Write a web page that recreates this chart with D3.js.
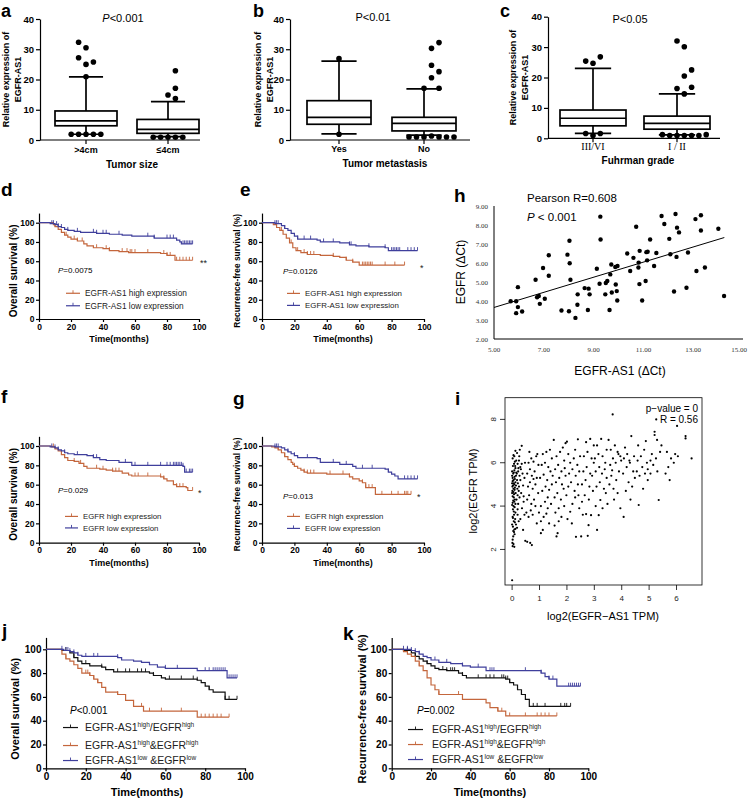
<!DOCTYPE html>
<html><head><meta charset="utf-8">
<script src="https://cdn.jsdelivr.net/npm/d3@7/dist/d3.min.js"></script>
<style>
body{margin:0;background:#fff}
svg{display:block;font-family:"Liberation Sans",Arial,Helvetica,sans-serif}
</style></head><body>
<svg id="fig" width="749" height="799"></svg>
<script>
// ================= DATA =================
// --- box plots (a, b, c) ---
const boxTicks = [0, 10, 20, 30, 40];
const aCats = [">4cm", "≤4cm"];
const aLow = [1.9, 1.1], aQ1 = [4.7, 2.2], aMed = [6.3, 3.5], aQ3 = [9.6, 6.8], aHigh = [20.9, 12.7];
// [category index, value, jitter slot]
const aOut = [[0,32.3,-1],[0,30.5,0],[0,27.2,-1],[0,25.0,0],[0,25.8,1],[0,20.9,0],
  [0,1.9,-2],[0,1.9,-1],[0,1.9,0],[0,1.9,1],[0,1.9,2],
  [1,22.9,1],[1,17.1,1],[1,14.9,0],[1,13.7,1],
  [1,0.9,-2],[1,0.9,-1],[1,0.9,0],[1,0.9,1],[1,0.9,2]];
const bCats = ["Yes", "No"];
const bLow = [2.0, 1.6], bQ1 = [5.2, 3.0], bMed = [7.5, 5.5], bQ3 = [13.0, 7.5], bHigh = [26.1, 16.9];
const bOut = [[0,26.9,0],[0,1.9,0],
  [1,32.2,2],[1,30.3,1],[1,24.7,1],[1,22.6,2],[1,20.6,1],[1,17.1,0],[1,17.1,2],
  [1,1.3,1],[1,1.0,-2],[1,1.0,-1],[1,1.0,0],[1,1.0,2],[1,1.0,3],[1,1.0,4]];
const cCats = ["III/VI", "I / II"];
const cLow = [1.6, 1.1], cQ1 = [4.1, 3.0], cMed = [6.6, 4.9], cQ3 = [9.3, 7.3], cHigh = [23.0, 14.6];
const cOut = [[0,25.4,-1],[0,24.7,0],[0,26.8,1],[0,1.6,-1],[0,1.6,1],[0,0.9,0],
  [1,32.0,0],[1,30.1,1],[1,22.5,2],[1,20.5,1],[1,16.4,0],[1,16.8,2],[1,14.6,1],
  [1,1.2,-2],[1,0.9,-1],[1,0.9,0],[1,0.9,1],[1,0.9,2],[1,0.9,3],[1,1.2,4]];

// --- Kaplan-Meier curves: step times, survival (%), censor times ---
const kmTicks = [0, 20, 40, 60, 80, 100];
const dHighT = [0,9,10,12,14,16,18,20,24,28,30,34,40,44,50,56,76,80,85];
const dHighS = [100,98,96,93,90,87,85,83,81,78,76,74,73,71,70,69,68,66,61];
const dHighC = [10,17,22,24,27,36,42,44,52,55,57,58,60,68,78,80,82,86,88,90,92,94,96];
const dLowT = [0,7,10,12,14,16,18,22,26,36,44,52,58,72,86,88,89];
const dLowS = [100,99,98,96,95,93,92,91,90,89,88,87,86,84,82,80,78];
const dLowC = [8,9,11,12,14,18,24,34,36,40,42,50,68,72,80,82,84,90,91,92,93,94,95,96];

const eHighT = [0,7,9,11,13,15,17,19,21,24,28,36,44,48,52,56,60];
const eHighS = [100,98,95,92,88,84,79,74,71,69,67,66,65,64,61,59,56];
const eHighC = [12,18,22,26,28,30,32,44,52,56,62,63,64,65,66,67,68,76,82,88];
const eLowT = [0,8,12,14,16,18,20,22,34,36,48,54,58,66,76,78];
const eLowS = [100,99,97,94,92,89,86,83,82,80,79,77,76,75,74,71];
const eLowC = [8,9,10,14,22,26,30,38,44,54,55,66,76,80,81,82,83,84,85,90,92,94,96];

const fHighT = [0,8,10,12,14,16,18,22,25,28,30,38,42,46,52,56,58,76,78,80,84,86,92,93];
const fHighS = [100,99,97,95,91,88,85,84,82,79,77,76,75,74,72,70,69,68,66,64,60,58,57,54];
const fHighC = [9,16,22,26,36,40,46,48,50,60,62,68,76,78,86,88,90,96];
const fLowT = [0,7,10,12,14,16,18,22,30,34,38,42,50,58,90,91];
const fLowS = [100,99,98,96,95,93,92,91,90,88,86,85,83,80,79,73];
const fLowC = [8,10,12,16,24,34,36,54,60,68,76,80,82,84,85,86,87,88,89,90,92,94,95,96];

const gHighT = [0,6,8,10,12,14,16,18,19,20,22,24,26,28,40,54,56,60,62,64,70];
const gHighS = [100,99,98,96,93,89,86,83,81,79,77,75,73,72,71,68,66,64,62,57,50];
const gHighC = [10,14,20,26,28,30,32,42,50,54,62,64,66,68,74,80,84,88,89,90,92];
const gLowT = [0,8,12,14,16,18,20,22,34,36,48,56,58,76,78,80,82,84];
const gLowS = [100,99,98,96,94,92,90,88,87,83,81,79,77,76,73,71,69,66];
const gLowC = [8,9,10,16,20,28,44,52,62,68,78,88,90,92,94,96];

const jBlackT = [0,8,12,14,16,18,22,28,30,34,52,54,58,60,76,78,80,82,84,90];
const jBlackS = [100,99,97,93,90,88,86,85,83,81,80,78,76,75,74,72,69,66,64,58];
const jBlackC = [10,14,20,28,36,40,42,46,48,50,54,62,68,74,76,82,90,92,96];
const jOrT = [0,8,10,12,14,16,18,22,24,26,28,30,36,40,44,49,76];
const jOrS = [100,96,92,90,87,84,80,78,75,72,68,64,62,57,52,48,43];
const jOrC = [10,20,21,22,24,26,36,48,52,58,68,78,80,82,84,86,88,92];
const jBlueT = [0,9,12,14,16,18,36,38,44,48,52,56,60,76,91];
const jBlueS = [100,99,98,97,95,94,93,91,90,89,87,85,84,82,76];
const jBlueC = [8,10,11,12,14,16,20,24,26,36,60,66,80,82,84,85,86,87,88,89,90,92,93,94,95,96];

const kBlackT = [0,6,10,12,14,16,18,20,22,24,28,34,36,38,58,60,62,64,66,68,70];
const kBlackS = [100,99,97,94,92,90,88,86,84,83,82,80,78,76,75,72,70,66,62,58,52];
const kBlackC = [8,12,18,26,28,30,31,32,36,44,48,50,52,56,57,58,59,60,64,66,72,74,78,86,88,89,91];
const kOrT = [0,6,8,10,12,14,16,18,20,22,24,36,48,50,54,58];
const kOrS = [100,98,96,94,90,86,82,76,70,66,62,58,55,51,48,44];
const kOrC = [14,24,34,54,56,60,68,74,76,78,80,84];
const kBlueT = [0,10,12,14,16,18,20,24,30,36,40,48,76,78,80,84];
const kBlueS = [100,99,98,96,94,93,91,89,88,86,85,82,80,77,75,69];
const kBlueC = [6,8,10,12,14,22,28,36,44,50,51,52,68,76,80,82,90,91,92,93,94,95,96];

// --- h: EGFR (ΔCt) vs EGFR-AS1 (ΔCt) ---
const hXTicks = [5, 7, 9, 11, 13, 15];
const hYTicks = [2, 3, 4, 5, 6, 7, 8, 9];
const hX = [5.67,5.89,5.96,5.96,5.89,6.13,6.67,6.73,6.80,6.84,7.04,6.97,7.20,7.20,7.71,7.95,8.03,8.04,8.07,8.01,
  8.27,8.36,8.35,8.64,8.80,8.84,8.77,9.13,9.24,9.27,9.28,9.47,9.49,9.55,9.67,9.71,9.64,9.73,9.87,9.96,
  9.89,9.93,9.95,10.35,10.47,10.60,10.71,10.80,10.81,10.85,10.84,10.95,11.09,11.12,11.15,11.17,11.27,11.43,11.52,11.73,
  11.84,12.04,12.08,12.23,12.29,12.35,12.33,12.43,12.73,12.79,13.09,13.13,13.31,13.31,13.47,14.01,14.24];
const hY = [3.99,3.99,4.73,3.68,3.36,3.45,5.12,4.20,4.26,3.85,4.12,5.74,6.41,5.33,3.50,6.44,7.17,5.99,5.12,3.46,
  3.11,4.35,3.80,4.68,4.65,4.35,3.53,5.70,4.91,8.44,7.24,4.35,4.95,5.05,5.40,5.92,3.53,4.45,5.79,5.84,
  4.87,4.52,4.03,6.50,5.58,6.27,7.91,5.76,6.02,6.64,4.89,4.03,5.05,6.57,6.14,6.59,7.24,5.84,6.53,8.47,
  8.05,7.27,6.46,4.50,8.58,7.86,6.32,7.61,4.70,6.55,8.31,5.58,8.51,7.71,5.76,7.80,4.26];
const hFit = [[5.0, 3.66], [14.25, 7.34]];

// --- i: log2(EGFR TPM) vs log2(EGFR-AS1 TPM) ---
const iXTicks = [0, 1, 2, 3, 4, 5, 6];
const iYTicks = [2, 4, 6, 8];
const iPts = [[0.00,0.58],[0.02,2.15],[0.05,2.25],[0.08,2.12],[0.02,2.45],[0.04,2.85],[0.08,2.92],[0.03,3.05],[0.06,3.3],[0.1,3.25],
 [0.02,3.5],[0.07,3.6],[0.12,3.7],[0.03,3.85],[0.09,3.95],[0.05,4.0],[0.0,4.05],[0.12,4.1],[0.04,4.25],[0.1,4.3],
 [0.02,4.45],[0.07,4.55],[0.13,4.6],[0.01,4.7],[0.05,4.8],[0.1,4.85],[0.03,4.95],[0.08,5.0],[0.0,5.05],[0.12,5.1],
 [0.05,5.2],[0.02,5.3],[0.09,5.35],[0.14,5.4],[0.04,5.5],[0.0,5.6],[0.08,5.65],[0.12,5.75],[0.03,5.85],[0.07,5.95],
 [0.1,6.05],[0.05,6.35],[0.12,6.55],[0.02,5.15],[0.06,4.4],[0.11,3.4],[0.09,2.7],[0.14,4.95],[0.0,4.6],[0.15,5.55],
 [0.01,2.3],[0.04,2.6],[0.07,2.8],[0.0,3.15],[0.03,3.45],[0.06,3.75],[0.02,4.15],[0.08,4.2],[0.05,4.65],[0.09,4.75],
 [0.01,4.9],[0.06,5.05],[0.1,5.25],[0.0,5.4],[0.06,5.55],[0.11,5.85],[0.02,6.2],[0.08,6.3],[0.16,4.3],[0.19,4.8],
 [0.21,5.05],[0.17,5.5],[0.23,5.75],[0.26,6.3],[0.15,6.1],[0.2,3.85],[0.24,3.3],[0.14,3.15],[0.27,4.4],[0.12,2.95],
 [0.18,3.0],[0.2,3.6],[0.22,4.1],[0.2,4.5],[0.25,4.9],[0.18,5.2],[0.27,5.4],[0.22,5.6],[0.3,5.8],[0.2,5.95],
 [0.25,6.1],[0.18,6.45],[0.28,6.6],[0.35,6.78],[0.32,5.7],[0.38,5.5],[0.3,5.2],[0.4,4.95],[0.33,4.6],[0.42,4.2],
 [0.36,3.9],[0.45,3.6],[0.3,3.4],[0.4,2.9],[0.48,2.4],[0.35,5.95],[0.45,5.3],[0.47,6.0],[0.24,4.7],[0.42,4.45],
 [0.55,2.35],[0.66,2.3],[0.72,2.2],[0.52,3.7],[0.6,3.5],[0.68,3.8],[0.75,3.6],[0.55,4.3],[0.62,4.5],[0.7,4.1],
 [0.8,4.3],[0.58,4.9],[0.65,5.1],[0.75,4.8],[0.85,5.0],[0.95,4.6],[0.55,5.5],[0.65,5.7],[0.72,5.4],[0.82,5.6],
 [0.9,5.3],[0.6,6.0],[0.7,6.2],[0.78,6.05],[0.88,6.3],[0.96,5.9],[0.63,6.5],[0.92,6.4],[0.85,4.0],[0.98,3.7],
 [0.9,3.2],[0.78,5.25],[1.05,2.75],[1.12,2.9],[1.05,3.3],[1.15,3.5],[1.25,3.65],[1.35,3.2],[1.05,4.0],[1.2,4.2],
 [1.3,4.4],[1.42,4.1],[1.1,4.7],[1.22,4.9],[1.35,4.75],[1.45,5.0],[1.02,5.3],[1.15,5.45],[1.28,5.2],[1.4,5.6],
 [1.08,5.9],[1.2,6.0],[1.32,5.8],[1.45,6.2],[1.12,6.4],[1.25,6.5],[1.38,6.6],[1.48,5.4],[1.3,3.9],[1.52,7.05],
 [1.55,3.1],[1.62,2.6],[1.66,2.75],[1.58,3.7],[1.7,3.9],[1.8,3.5],[1.9,4.0],[1.55,4.4],[1.65,4.6],[1.78,4.3],
 [1.88,4.8],[1.98,4.5],[1.6,5.1],[1.72,5.3],[1.82,5.0],[1.95,5.4],[1.57,5.7],[1.68,5.9],[1.8,5.6],[1.9,6.1],
 [1.62,6.3],[1.75,6.5],[1.85,6.7],[1.95,6.9],[1.7,3.3],[1.92,5.75],[2.0,6.97],[2.05,6.4],[2.12,3.74],[2.2,4.1],
 [2.3,4.4],[2.45,3.9],[2.05,4.9],[2.15,5.1],[2.28,4.7],[2.4,5.0],[2.08,5.5],[2.2,5.7],[2.32,5.4],[2.45,5.6],
 [2.12,6.0],[2.25,6.2],[2.38,5.9],[2.48,6.3],[2.4,7.08],[2.33,2.58],[2.18,3.2],[2.3,6.6],[2.02,3.4],[2.42,4.5],
 [2.52,2.6],[2.76,2.63],[2.79,3.12],[2.58,3.6],[2.7,3.63],[2.88,3.58],[2.55,4.2],[2.65,4.5],[2.8,4.3],[2.95,4.7],
 [2.55,5.0],[2.68,5.2],[2.82,4.9],[2.92,5.4],[2.6,5.6],[2.72,5.8],[2.85,5.5],[2.98,6.0],[2.62,6.3],[2.75,6.5],
 [2.9,6.2],[2.98,6.8],[2.7,6.95],[2.85,7.1],[3.1,2.9],[3.16,3.58],[3.22,4.28],[3.05,4.0],[3.3,3.9],[3.42,4.6],
 [3.08,4.9],[3.2,5.1],[3.35,4.8],[3.45,5.3],[3.05,5.6],[3.18,5.8],[3.28,5.5],[3.4,6.0],[3.02,6.2],[3.15,6.4],
 [3.3,6.3],[3.45,6.6],[3.25,7.1],[3.38,5.7],[3.1,6.8],[3.48,4.1],[3.52,7.05],[3.67,8.23],[3.55,5.0],[3.62,5.4],
 [3.7,4.8],[3.8,5.2],[3.9,5.6],[3.58,5.9],[3.68,6.2],[3.78,6.0],[3.88,6.4],[3.98,6.1],[3.6,6.6],[3.75,6.8],
 [3.85,6.5],[3.95,6.3],[3.72,4.3],[3.85,4.6],[3.95,3.9],[3.65,5.65],[4.07,3.5],[4.15,4.7],[4.25,5.1],[4.38,4.9],
 [4.05,5.5],[4.18,5.8],[4.3,6.0],[4.42,5.6],[4.08,6.2],[4.2,6.4],[4.35,7.23],[4.45,6.3],[4.12,6.7],[4.28,6.1],
 [4.48,5.3],[4.32,4.3],[4.62,4.05],[4.55,5.6],[4.65,5.4],[4.75,5.8],[4.85,5.5],[4.95,5.2],[4.58,6.1],[4.7,6.3],
 [4.82,6.6],[4.92,6.0],[4.6,6.8],[4.88,7.0],[4.78,4.8],[4.95,5.7],[5.2,7.43],[5.2,7.28],[5.29,7.05],[5.35,4.28],
 [5.05,5.5],[5.15,5.9],[5.25,6.2],[5.4,6.5],[5.1,6.4],[5.45,6.8],[5.3,5.6],[5.05,6.1],[5.6,5.5],[5.7,5.8],
 [5.8,6.2],[5.65,6.5],[5.9,6.0],[5.75,5.2],[5.95,6.4],[6.02,7.7],[6.33,7.23],[6.33,7.12],[6.55,6.2],[6.05,6.3],
 [5.26,8.0]];

// ================= DRAWING =================
const svg = d3.select("#fig");
const ORANGE = "#c4663c", BLUE = "#3f3f9c", BLACK = "#111";

function label(x, y, s, o = {}) {
  const t = svg.append("text").attr("x", x).attr("y", y)
    .attr("font-size", o.size || 10)
    .attr("font-weight", o.bold ? "bold" : "normal")
    .attr("text-anchor", o.anchor || "start")
    .attr("fill", o.fill || "#000");
  if (o.family) t.attr("font-family", o.family);
  if (o.italic) t.attr("font-style", "italic");
  if (o.rotate) t.attr("transform", `rotate(-90,${x},${y})`);
  if (s !== null) t.text(s);
  return t;
}
function pLabel(x, y, italicP, rest, size, anchor) {
  const t = label(x, y, null, { size, anchor });
  t.append("tspan").attr("font-style", italicP ? "italic" : "normal").text("P");
  t.append("tspan").text(rest);
}
function styleAxis(g, size, bold, family) {
  g.selectAll("path,line").attr("stroke", "#000").attr("stroke-width", 1.2);
  g.selectAll("text").attr("font-size", size).attr("font-weight", bold ? "bold" : "normal")
    .attr("font-family", family || null).attr("fill", "#000");
}

// ---------- box plots ----------
function boxPanel(c) {
  const y = d3.scaleLinear().domain([0, 40]).range([c.yBot, c.yTop]);
  const x = d3.scalePoint().domain(c.cats).range(c.centers);
  const ax = svg.append("g").attr("transform", `translate(${c.x0},0)`)
    .call(d3.axisLeft(y).tickValues(boxTicks).tickSize(4).tickSizeOuter(0).tickPadding(2));
  styleAxis(ax, 9.5, true);
  svg.append("line").attr("x1", c.x0).attr("x2", c.x1).attr("y1", c.yBot).attr("y2", c.yBot)
    .attr("stroke", "#000").attr("stroke-width", 1.2);
  const w = c.boxW, cap = c.boxW * 0.55, sp = c.sp;
  c.cats.forEach((cat, i) => {
    const cx = x(cat);
    svg.append("line").attr("x1", cx).attr("x2", cx).attr("y1", c.yBot).attr("y2", c.yBot + 4)
      .attr("stroke", "#000").attr("stroke-width", 1.2);
    const g = svg.append("g").attr("stroke", "#000").attr("stroke-width", 1.7).attr("fill", "none");
    g.append("line").attr("x1", cx).attr("x2", cx).attr("y1", y(c.high[i])).attr("y2", y(c.q3[i]));
    g.append("line").attr("x1", cx).attr("x2", cx).attr("y1", y(c.q1[i])).attr("y2", y(c.low[i]));
    g.append("line").attr("x1", cx - cap / 2).attr("x2", cx + cap / 2).attr("y1", y(c.high[i])).attr("y2", y(c.high[i]));
    g.append("line").attr("x1", cx - cap / 2).attr("x2", cx + cap / 2).attr("y1", y(c.low[i])).attr("y2", y(c.low[i]));
    g.append("rect").attr("x", cx - w / 2).attr("y", y(c.q3[i])).attr("width", w)
      .attr("height", y(c.q1[i]) - y(c.q3[i])).attr("fill", "#fff");
    g.append("line").attr("x1", cx - w / 2).attr("x2", cx + w / 2).attr("y1", y(c.med[i])).attr("y2", y(c.med[i]));
    label(cx, c.catY, cat, { size: c.catSize, bold: !c.catSerif, anchor: "middle",
      family: c.catSerif ? '"Liberation Serif","Times New Roman",serif' : null });
  });
  svg.append("g").selectAll("circle").data(c.out).join("circle")
    .attr("cx", d => x(c.cats[d[0]]) + d[2] * sp).attr("cy", d => y(d[1])).attr("r", 2.8).attr("fill", "#000");
  const ym = (c.yTop + c.yBot) / 2;
  label(c.yl[0], ym, "Relative expression of", { size: 9, bold: true, anchor: "middle", rotate: true });
  label(c.yl[1], ym, "EGFR-AS1", { size: 9, bold: true, anchor: "middle", rotate: true });
  label(c.xt[0], c.xt[1], c.xtitle, { size: 10, bold: true, anchor: "middle" });
  pLabel(c.p[0], c.p[1], c.pItalic, c.pText, 11, "middle");
  label(c.letter[0], c.letter[1], c.letter[2], { size: 18, bold: true });
}
boxPanel({ cats: aCats, low: aLow, q1: aQ1, med: aMed, q3: aQ3, high: aHigh, out: aOut,
  x0: 40, x1: 200, yTop: 19, yBot: 140, centers: [86, 168], boxW: 62, sp: 7.4,
  catY: 153, catSize: 9, yl: [9, 20.5], xtitle: "Tumor size", xt: [132, 168],
  p: [123, 22], pItalic: true, pText: "<0.001", letter: [1, 17, "a"] });
boxPanel({ cats: bCats, low: bLow, q1: bQ1, med: bMed, q3: bQ3, high: bHigh, out: bOut,
  x0: 290, x1: 470, yTop: 19, yBot: 140, centers: [339, 424], boxW: 64, sp: 7.5,
  catY: 152, catSize: 9, yl: [261, 273], xtitle: "Tumor metastasis", xt: [385, 167],
  p: [373, 21], pItalic: false, pText: "<0.01", letter: [253, 17, "b"] });
boxPanel({ cats: cCats, low: cLow, q1: cQ1, med: cMed, q3: cQ3, high: cHigh, out: cOut,
  x0: 548, x1: 720, yTop: 16.7, yBot: 138.3, centers: [593, 677], boxW: 66, sp: 7.3,
  catY: 150, catSize: 10, catSerif: true, yl: [516, 528], xtitle: "Fuhrman grade", xt: [638, 164],
  p: [630, 23], pItalic: false, pText: "<0.05", letter: [500, 17, "c"] });

// ---------- Kaplan-Meier ----------
function survAt(T, S, t) { let v = S[0]; for (let i = 0; i < T.length; i++) if (T[i] <= t) v = S[i]; return v; }
function kmPanel(c) {
  const x = d3.scaleLinear().domain([0, 100]).range([c.x0, c.x1]);
  const h = c.yBot - c.y100;
  const y = d3.scaleLinear().domain([0, 110]).range([c.yBot, c.yBot - 1.1 * h]);
  const ay = svg.append("g").attr("transform", `translate(${c.x0},0)`)
    .call(d3.axisLeft(y).tickValues(kmTicks).tickSize(3).tickSizeOuter(0).tickPadding(1.5));
  styleAxis(ay, c.tick, true);
  const ax = svg.append("g").attr("transform", `translate(0,${c.yBot})`)
    .call(d3.axisBottom(x).tickValues(kmTicks).tickSize(3).tickSizeOuter(0).tickPadding(1.5));
  styleAxis(ax, c.tick, true);
  const line = d3.line().x(d => x(d[0])).y(d => y(d[1])).curve(d3.curveStepAfter);
  c.curves.forEach(cv => {
    const end = Math.max(cv.T[cv.T.length - 1], d3.max(cv.C));
    const pts = cv.T.map((t, i) => [t, cv.S[i]]).concat([[end, cv.S[cv.S.length - 1]]]);
    svg.append("path").attr("d", line(pts)).attr("fill", "none").attr("stroke", cv.color).attr("stroke-width", 1.2);
    svg.append("g").selectAll("line").data(cv.C).join("line")
      .attr("x1", t => x(t)).attr("x2", t => x(t))
      .attr("y1", t => y(survAt(cv.T, cv.S, t))).attr("y2", t => y(survAt(cv.T, cv.S, t)) - 3.5)
      .attr("stroke", cv.color).attr("stroke-width", 0.9);
  });
  label(c.yl[0], (c.yBot + c.y100) / 2, c.ytitle, { size: c.ylSize, bold: true, anchor: "middle", rotate: true });
  label(c.xt[0], c.xt[1], "Time(months)", { size: c.xtSize, bold: true, anchor: "middle" });
  pLabel(c.p[0], c.p[1], true, c.pText, c.pSize, "start");
  c.legend.forEach((it, i) => {
    const yy = c.lg.ys[i];
    const ly = yy - c.lg.size * 0.33;
    svg.append("line").attr("x1", c.lg.x1).attr("x2", c.lg.x2).attr("y1", ly).attr("y2", ly)
      .attr("stroke", it.color).attr("stroke-width", 1.2);
    const mx = (c.lg.x1 + c.lg.x2) / 2;
    svg.append("line").attr("x1", mx).attr("x2", mx).attr("y1", ly).attr("y2", ly - 3)
      .attr("stroke", it.color).attr("stroke-width", 0.9);
    const t = label(c.lg.tx, yy, null, { size: c.lg.size, fill: "#222" });
    it.parts.forEach(p => {
      const sp = t.append("tspan").text(p[0]);
      if (p[1] === 1) sp.attr("font-size", c.lg.size * 0.62).attr("dy", -c.lg.size * 0.4);
      if (p[1] === 2) sp.attr("dy", c.lg.size * 0.4);
    });
  });
  if (c.star) label(c.star[0], c.star[1], c.star[2], { size: 9, anchor: "start", fill: "#222" });
  if (c.letter) label(c.letter[0], c.letter[1], c.letter[2], { size: 19, bold: true });
}
const lgAS1 = [{ color: ORANGE, parts: [["EGFR-AS1 high expression", 0]] }, { color: BLUE, parts: [["EGFR-AS1 low expression", 0]] }];
const lgEGFR = [{ color: ORANGE, parts: [["EGFR high expression", 0]] }, { color: BLUE, parts: [["EGFR low expression", 0]] }];
const lgCombo = [
  { color: BLACK, parts: [["EGFR-AS1", 0], ["high", 1], ["/EGFR", 2], ["high", 1]] },
  { color: ORANGE, parts: [["EGFR-AS1", 0], ["high", 1], ["&EGFR", 2], ["high", 1]] },
  { color: BLUE, parts: [["EGFR-AS1", 0], ["low", 1], [" &EGFR", 2], ["low", 1]] }];

kmPanel({ x0: 39, x1: 199, y100: 222.7, yBot: 319, tick: 8.5,
  curves: [{ T: dHighT, S: dHighS, C: dHighC, color: ORANGE }, { T: dLowT, S: dLowS, C: dLowC, color: BLUE }],
  ytitle: "Overall survival (%)", yl: [17, 0], ylSize: 10, xt: [119, 342], xtSize: 9,
  p: [58, 273], pText: "=0.0075", pSize: 8, legend: lgAS1, lg: { x1: 66, x2: 80, tx: 85, ys: [296, 308.5], size: 8.3 },
  star: [200, 266, "**"], letter: [1, 196, "d"] });
kmPanel({ x0: 262, x1: 424, y100: 222.7, yBot: 319, tick: 8.5,
  curves: [{ T: eHighT, S: eHighS, C: eHighC, color: ORANGE }, { T: eLowT, S: eLowS, C: eLowC, color: BLUE }],
  ytitle: "Recurrence-free survival (%)", yl: [240, 0], ylSize: 8.4, xt: [343, 342], xtSize: 9,
  p: [283, 274], pText: "=0.0126", pSize: 8, legend: lgAS1, lg: { x1: 287, x2: 300, tx: 305, ys: [296, 308], size: 7.9 },
  star: [420, 271, "*"], letter: [240, 196, "e"] });
kmPanel({ x0: 39, x1: 199, y100: 446, yBot: 542.7, tick: 8.5,
  curves: [{ T: fHighT, S: fHighS, C: fHighC, color: ORANGE }, { T: fLowT, S: fLowS, C: fLowC, color: BLUE }],
  ytitle: "Overall survival (%)", yl: [17, 0], ylSize: 10, xt: [119, 566], xtSize: 9,
  p: [58, 493], pText: "=0.029", pSize: 8, legend: lgEGFR, lg: { x1: 65, x2: 78, tx: 83, ys: [519, 530.5], size: 7.8 },
  star: [198, 496, "*"], letter: [1, 403, "f"] });
kmPanel({ x0: 262, x1: 424, y100: 446, yBot: 542.7, tick: 8.5,
  curves: [{ T: gHighT, S: gHighS, C: gHighC, color: ORANGE }, { T: gLowT, S: gLowS, C: gLowC, color: BLUE }],
  ytitle: "Recurrence-free survival (%)", yl: [240, 0], ylSize: 8.4, xt: [343, 566], xtSize: 9,
  p: [283, 499], pText: "=0.013", pSize: 8, legend: lgEGFR, lg: { x1: 287, x2: 300, tx: 305, ys: [519, 531], size: 7.8 },
  star: [417, 500, "*"], letter: [233, 405, "g"] });
kmPanel({ x0: 46, x1: 245, y100: 649.3, yBot: 768.3, tick: 10,
  curves: [{ T: jBlackT, S: jBlackS, C: jBlackC, color: BLACK }, { T: jOrT, S: jOrS, C: jOrC, color: ORANGE },
           { T: jBlueT, S: jBlueS, C: jBlueC, color: BLUE }],
  ytitle: "Overall survival (%)", yl: [19, 0], ylSize: 11, xt: [147, 796], xtSize: 11,
  p: [70, 714], pText: "<0.001", pSize: 10, legend: lgCombo, lg: { x1: 63, x2: 78, tx: 85, ys: [731, 749, 764], size: 10.5 },
  letter: [2, 637, "j"] });
kmPanel({ x0: 391.7, x1: 588.3, y100: 649.3, yBot: 768.3, tick: 10,
  curves: [{ T: kBlackT, S: kBlackS, C: kBlackC, color: BLACK }, { T: kOrT, S: kOrS, C: kOrC, color: ORANGE },
           { T: kBlueT, S: kBlueS, C: kBlueC, color: BLUE }],
  ytitle: "Recurrence-free survival (%)", yl: [366, 0], ylSize: 11, xt: [490, 796], xtSize: 11,
  p: [417, 714], pText: "=0.002", pSize: 10, legend: lgCombo, lg: { x1: 408, x2: 423, tx: 432, ys: [733, 748, 763], size: 10.5 },
  letter: [343, 640, "k"] });

// ---------- h scatter ----------
(function () {
  const x = d3.scaleLinear().domain([5, 15]).range([494, 743]);
  const y = d3.scaleLinear().domain([2, 9]).range([339, 206]);
  svg.append("line").attr("x1", 494).attr("x2", 494).attr("y1", y(9)).attr("y2", y(2)).attr("stroke", "#000").attr("stroke-width", 1);
  svg.append("line").attr("x1", 494).attr("x2", x(15)).attr("y1", y(2)).attr("y2", y(2)).attr("stroke", "#000").attr("stroke-width", 1);
  const serif = '"Liberation Serif","Times New Roman",serif';
  hXTicks.forEach((v, i) => {
    const last = i === hXTicks.length - 1;
    label(last ? x(v) + 4 : x(v), 351.5, v.toFixed(2), { size: 7, anchor: last ? "end" : "middle", family: serif, fill: "#333" });
  });
  hYTicks.forEach(v => label(488, y(v) + 2.5, v.toFixed(2), { size: 7, anchor: "end", family: serif, fill: "#333" }));
  svg.append("line").attr("x1", x(hFit[0][0])).attr("y1", y(hFit[0][1])).attr("x2", x(hFit[1][0])).attr("y2", y(hFit[1][1]))
    .attr("stroke", "#000").attr("stroke-width", 1);
  svg.append("g").selectAll("circle").data(hX).join("circle")
    .attr("cx", d => x(d)).attr("cy", (d, i) => y(hY[i])).attr("r", 2.2).attr("fill", "#000");
  label(527, 202, "Pearson R=0.608", { size: 11.5 });
  pLabel(527, 221, true, " < 0.001", 11.5, "start");
  label(620, 375, "EGFR-AS1 (ΔCt)", { size: 12, anchor: "middle" });
  label(465, 272, "EGFR (ΔCt)", { size: 12, anchor: "middle", rotate: true });
  label(454, 202, "h", { size: 19, bold: true });
})();

// ---------- i scatter ----------
(function () {
  const x = d3.scaleLinear().domain([-0.26, 6.93]).range([505, 702]);
  const y = d3.scaleLinear().domain([0.36, 9.0]).range([585, 397.7]);
  svg.append("rect").attr("x", 505).attr("y", 397.7).attr("width", 197).attr("height", 187.3)
    .attr("fill", "none").attr("stroke", "#000").attr("stroke-width", 0.8);
  iXTicks.forEach(v => {
    svg.append("line").attr("x1", x(v)).attr("x2", x(v)).attr("y1", 585).attr("y2", 590).attr("stroke", "#000").attr("stroke-width", 0.8);
    label(x(v), 601, String(v), { size: 8, anchor: "middle", fill: "#222" });
  });
  iYTicks.forEach(v => {
    svg.append("line").attr("x1", 500).attr("x2", 505).attr("y1", y(v)).attr("y2", y(v)).attr("stroke", "#000").attr("stroke-width", 0.8);
    label(496, y(v), String(v), { size: 8, anchor: "middle", rotate: true, fill: "#222" });
  });
  svg.append("g").selectAll("circle").data(iPts).join("circle")
    .attr("cx", d => x(d[0])).attr("cy", d => y(d[1])).attr("r", 1.1).attr("fill", "#000");
  label(698, 412, "p−value = 0", { size: 10, anchor: "end" });
  label(698, 423, "R = 0.56", { size: 10, anchor: "end" });
  label(603, 620, "log2(EGFR−AS1 TPM)", { size: 11, anchor: "middle" });
  label(477, 491, "log2(EGFR TPM)", { size: 11, anchor: "middle", rotate: true });
  label(455, 405, "i", { size: 19, bold: true });
})();
</script>
</body></html>
